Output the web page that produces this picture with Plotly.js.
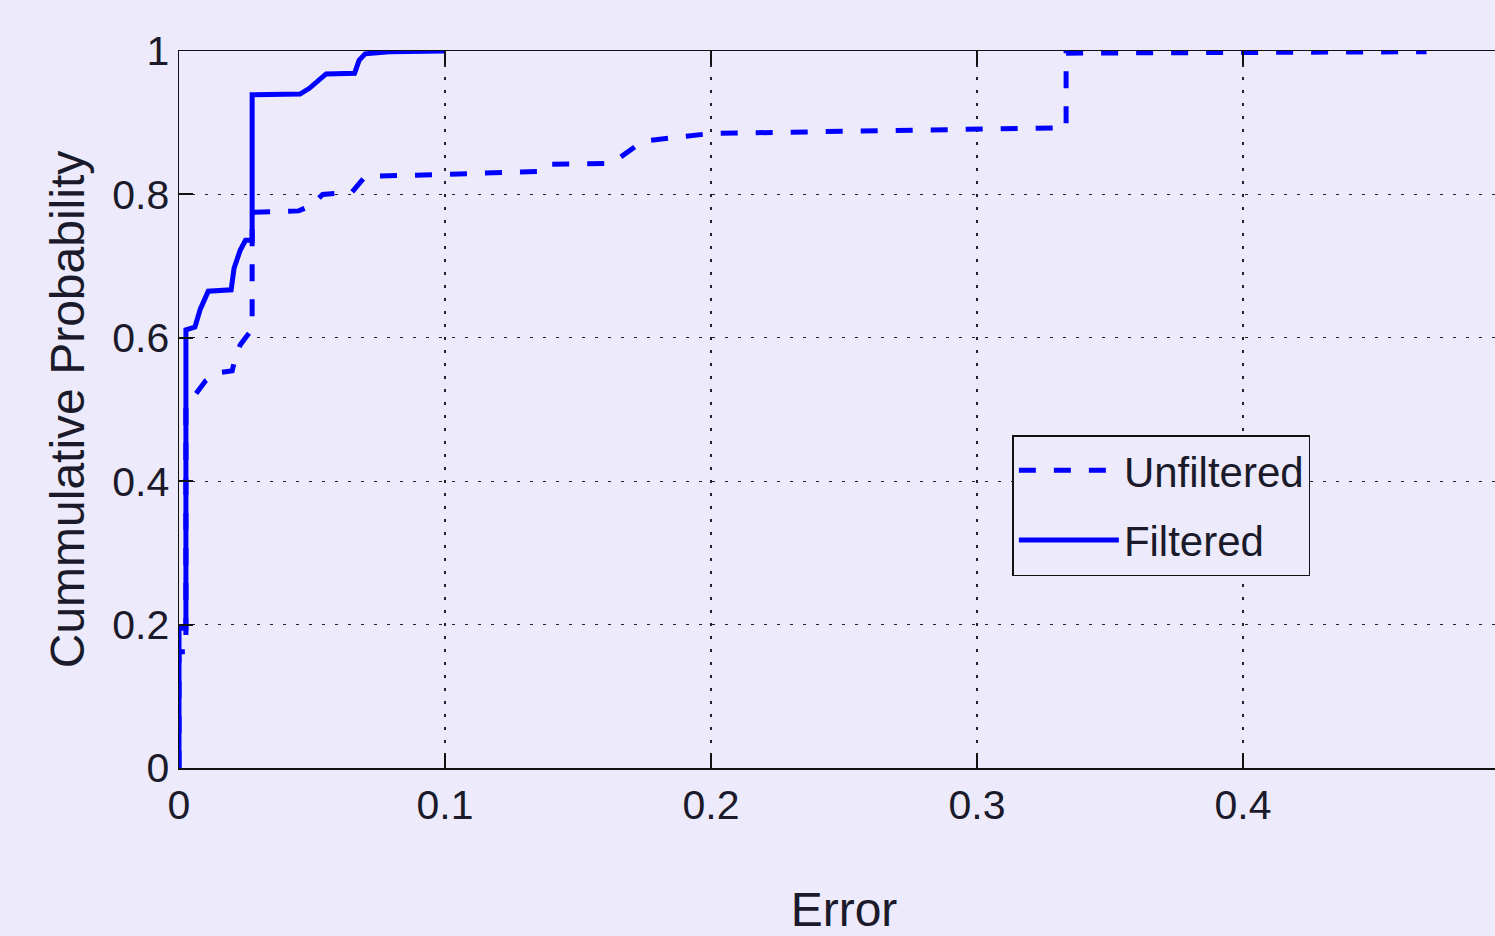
<!DOCTYPE html>
<html>
<head>
<meta charset="utf-8">
<script src="https://cdn.plot.ly/plotly-3.0.1.min.js"></script>
<style>
html,body{margin:0;padding:0;overflow:hidden;background:#ECEAFB;}
#chart{width:1530px;height:936px;}
</style>
</head>
<body>
<div id="chart"></div>
<script>
// Unfiltered (dashed) empirical CDF
const unfilteredX = [0, 0, 0.0026, 0.0026, 0.005, 0.008, 0.010, 0.014, 0.020, 0.021, 0.023, 0.025, 0.0275, 0.0275, 0.045, 0.050, 0.054, 0.065, 0.068, 0.070, 0.100, 0.120, 0.135, 0.138, 0.160, 0.166, 0.172, 0.176, 0.190, 0.200, 0.250, 0.300, 0.3335, 0.3335, 0.400, 0.469];
const unfilteredY = [0, 0.162, 0.162, 0.505, 0.515, 0.530, 0.540, 0.551, 0.554, 0.570, 0.590, 0.600, 0.612, 0.775, 0.777, 0.785, 0.800, 0.803, 0.815, 0.825, 0.828, 0.831, 0.832, 0.842, 0.843, 0.852, 0.868, 0.875, 0.880, 0.885, 0.888, 0.890, 0.893, 0.997, 0.998, 0.999];

// Filtered (solid) empirical CDF
const filteredX = [0, 0, 0.0026, 0.0026, 0.006, 0.008, 0.011, 0.0196, 0.0207, 0.023, 0.025, 0.0275, 0.0275, 0.0455, 0.049, 0.053, 0.0553, 0.066, 0.0677, 0.070, 0.079, 0.0997];
const filteredY = [0, 0.195, 0.195, 0.611, 0.615, 0.640, 0.665, 0.667, 0.697, 0.722, 0.736, 0.736, 0.939, 0.940, 0.948, 0.960, 0.968, 0.969, 0.987, 0.996, 0.999, 1.0];

const xTicks = [0, 0.1, 0.2, 0.3, 0.4, 0.5];
const xTickLabels = ['0', '0.1', '0.2', '0.3', '0.4', '0.5'];
const yTicks = [0, 0.2, 0.4, 0.6, 0.8, 1];
const yTickLabels = ['0', '0.2', '0.4', '0.6', '0.8', '1'];

const seriesNames = ['Unfiltered', 'Filtered'];

const bg = '#ECEAFB';
const font = 'Liberation Sans, Arial, Helvetica, sans-serif';

const traces = [
  {x: unfilteredX, y: unfilteredY, mode: 'lines', name: seriesNames[0], legendgroup: 'u',
   line: {color: '#0000FF', width: 5, dash: '17px,18px'}},
  {x: filteredX, y: filteredY, mode: 'lines', name: seriesNames[1], legendgroup: 'f',
   line: {color: '#0000FF', width: 5}}
];

const axisCommon = {
  showline: true, linecolor: '#111', linewidth: 1.5, mirror: 'ticks',
  ticks: 'inside', ticklen: 14, tickcolor: '#111', tickwidth: 2,
  showgrid: true, gridcolor: '#222', gridwidth: 1.2, griddash: '3px,10px',
  zeroline: false, layer: 'above traces',
  tickfont: {family: font, size: 41, color: '#1a1a2a'}
};

const layout = {
  width: 1530, height: 936,
  paper_bgcolor: bg, plot_bgcolor: bg,
  margin: {l: 179, r: 21, t: 51, b: 168},
  showlegend: true,
  legend: {
    x: 0.6266, y: 0.4644, xanchor: 'left', yanchor: 'top',
    bgcolor: bg, bordercolor: '#111', borderwidth: 1.5,
    font: {family: font, size: 42, color: '#1a1a2a'},
    itemwidth: 100, tracegroupgap: 12
  },
  xaxis: Object.assign({}, axisCommon, {
    range: [0, 0.5], tickvals: xTicks, ticktext: xTickLabels,
    title: {text: 'Error', font: {family: font, size: 48, color: '#1a1a2a'}, standoff: 78}
  }),
  yaxis: Object.assign({}, axisCommon, {
    range: [0, 1], tickvals: yTicks, ticktext: yTickLabels,
    title: {text: 'Cummulative Probability', font: {family: font, size: 48, color: '#1a1a2a'}, standoff: 12}
  })
};

Plotly.newPlot('chart', traces, layout, {displayModeBar: false, staticPlot: true});
</script>
</body>
</html>
